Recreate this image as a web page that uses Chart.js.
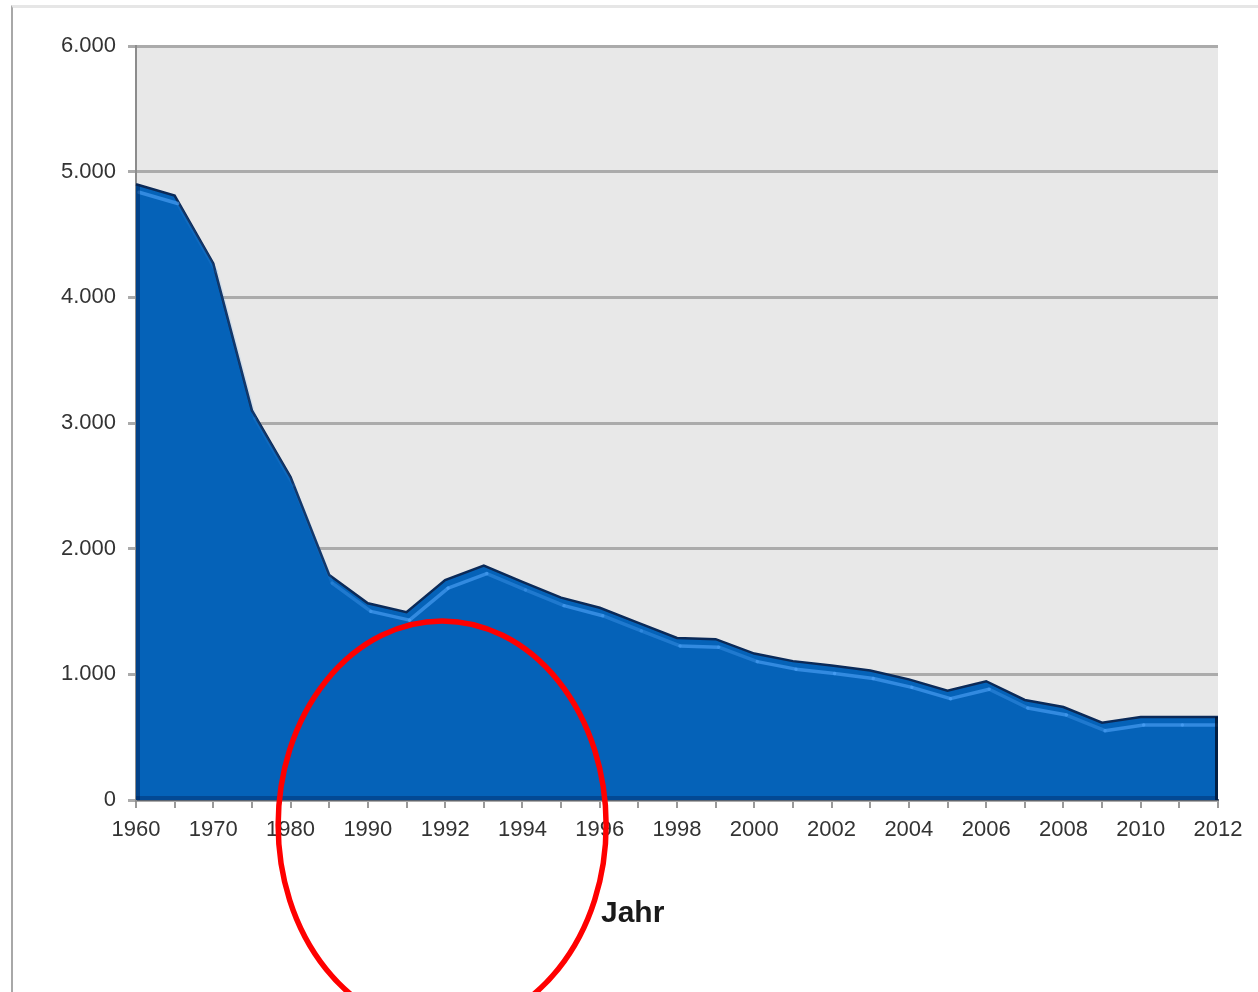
<!DOCTYPE html>
<html>
<head>
<meta charset="utf-8">
<script src="https://cdn.jsdelivr.net/npm/chart.js@4"></script>
<style>
    body { margin: 0; background: #fff; }
    #frame { position: absolute; left: 11px; top: 5px; width: 1247px; height: 987px;
             border-left: 2px solid #a8a8a8; border-top: 3px solid #e6e6e6; }
    #wrap { position: absolute; left: 0; top: 0; width: 1258px; height: 992px; }
</style>
</head>
<body>
<div id="frame"></div>
<div id="wrap"><canvas id="chart" width="1258" height="992"></canvas></div>
<script>
// Jahre (Kategorien) und Werte
const jahre = ['1960', '1965', '1970', '1975', '1980', '1985', '1990', '1991', '1992', '1993',
    '1994', '1995', '1996', '1997', '1998', '1999', '2000', '2001', '2002', '2003',
    '2004', '2005', '2006', '2007', '2008', '2009', '2010', '2011', '2012'];
const werte = [4900, 4810, 4270, 3100, 2570, 1790, 1565, 1495, 1750, 1865,
    1735, 1610, 1530, 1410, 1290, 1280, 1165, 1105, 1070, 1030,
    960, 870, 945, 796, 740, 615, 660, 660, 660];
const yTicks = [0, 1000, 2000, 3000, 4000, 5000, 6000];
const achsenTitel = 'Jahr';

const FONT = '"Liberation Sans", Arial, sans-serif';

function formatDE(v) {
    return String(v).replace(/\B(?=(\d{3})+(?!\d))/g, '.');
}

/**
 * Hintergrund, Glanzkante, Achsentitel und roter Kreis
 */
const deko = {
    id: 'deko',
    beforeDraw(chart) {
        const { ctx, chartArea: a } = chart;
        ctx.save();
        ctx.fillStyle = '#e8e8e8';
        ctx.fillRect(a.left, a.top, a.right - a.left, a.bottom - a.top);
        ctx.restore();
    },
    afterDatasetsDraw(chart) {
        const { ctx, chartArea: a } = chart;
        const pts = chart.getDatasetMeta(0).data;
        ctx.save();
        ctx.beginPath();
        ctx.rect(a.left, a.top, a.right - a.left, a.bottom - a.top);
        ctx.clip();
        // helle Kante unter der Oberkante (nur bei flachen / steigenden Stücken)
        ctx.lineCap = 'round';
        ctx.lineWidth = 3.5;
        for (let i = 1; i < pts.length; i++) {
            const p0 = pts[i - 1], p1 = pts[i];
            const slope = (p1.y - p0.y) / (p1.x - p0.x);
            const alpha = slope > 1 ? 0.12 : slope > 0.3 ? 0.35 : 0.6;
            ctx.strokeStyle = 'rgba(80,165,250,' + alpha + ')';
            ctx.beginPath();
            ctx.moveTo(p0.x + 3, p0.y + 8);
            ctx.lineTo(p1.x + 3, p1.y + 8);
            ctx.stroke();
        }
        // dunkle Ränder links/rechts/unten
        ctx.fillStyle = 'rgba(0,30,80,0.45)';
        ctx.fillRect(a.left, pts[0].y, 4, a.bottom - pts[0].y);
        ctx.fillStyle = 'rgba(0,15,40,0.8)';
        ctx.fillRect(a.right - 3, pts[pts.length - 1].y, 3, a.bottom - pts[pts.length - 1].y);
        ctx.fillStyle = 'rgba(0,30,80,0.35)';
        ctx.fillRect(a.left, a.bottom - 4, a.right - a.left, 4);
        ctx.restore();

        // Achsentitel
        ctx.save();
        ctx.font = 'bold 30px ' + FONT;
        ctx.fillStyle = '#1a1a1a';
        ctx.textAlign = 'center';
        ctx.textBaseline = 'middle';
        ctx.fillText(achsenTitel, a.left + (a.right - a.left) * 0.459, a.bottom + 114);
        ctx.restore();
    },
    afterDraw(chart) {
        const { ctx, scales } = chart;
        const cx = scales.x.getPixelForValue(8) - 3;
        const cy = scales.y.bottom + 25;
        ctx.save();
        ctx.beginPath();
        ctx.ellipse(cx, cy, 164, 204, 0, 0, Math.PI * 2);
        ctx.strokeStyle = '#ff0000';
        ctx.lineWidth = 5.5;
        ctx.stroke();
        ctx.restore();
    }
};

new Chart(document.getElementById('chart'), {
    type: 'line',
    data: {
        labels: jahre,
        datasets: [{
            data: werte,
            fill: 'origin',
            backgroundColor: '#0562b8',
            borderColor: '#0b2a58',
            borderWidth: 2.5,
            pointRadius: 0,
            tension: 0
        }]
    },
    options: {
        responsive: false,
        animation: false,
        layout: { padding: { top: 46, right: 40, bottom: 0, left: 0 } },
        plugins: { legend: { display: false }, tooltip: { enabled: false } },
        scales: {
            x: {
                afterFit: s => { s.height = 192; },
                grid: { display: true, drawOnChartArea: false, drawTicks: true, tickLength: 8, color: '#9a9a9a', lineWidth: 2 },
                border: { display: true, color: '#5c6470', width: 2 },
                ticks: {
                    autoSkip: false, maxRotation: 0, padding: 9,
                    color: '#333333', font: { family: FONT, size: 22 },
                    callback: (v, i) => i % 2 === 0 ? jahre[i] : ''
                }
            },
            y: {
                min: 0, max: 6000,
                afterFit: s => { s.width = 136; },
                afterBuildTicks: s => { s.ticks = yTicks.map(v => ({ value: v })); },
                grid: { color: '#ababab', lineWidth: 3, tickLength: 8 },
                border: { display: true, color: '#8c8c8c', width: 2 },
                ticks: {
                    padding: 12,
                    color: '#333333', font: { family: FONT, size: 22 },
                    callback: v => formatDE(v)
                }
            }
        }
    },
    plugins: [deko]
});
</script>
</body>
</html>
